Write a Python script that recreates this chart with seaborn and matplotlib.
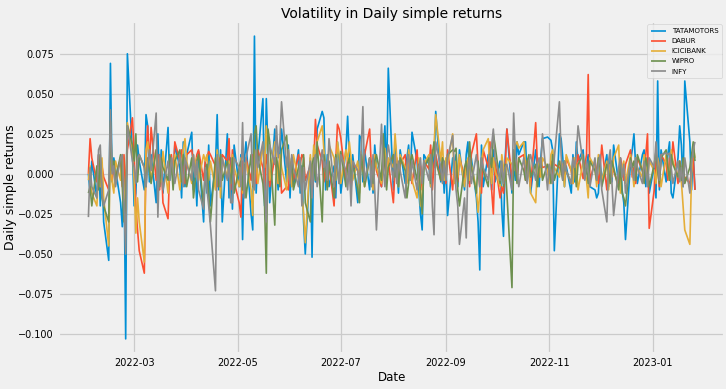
import pandas as pd
import matplotlib
matplotlib.use("Agg")
import matplotlib.pyplot as plt
import seaborn as sns

# daily simple returns (one value per trading day)
tatamotors = [
    0.000, -0.012, 0.008, -0.015, 0.012, -0.020, 0.005, -0.030, -0.054, 0.069,
    -0.005, 0.010, 0.003, -0.018, -0.033, 0.005, -0.103, 0.075, 0.012, -0.020,
    -0.012, 0.018, 0.008, -0.010, 0.037, 0.030, -0.005, 0.012, -0.018, 0.025,
    -0.008, 0.015, -0.012, 0.029, -0.004, 0.010, -0.006, 0.018, 0.004, -0.015,
    0.020, -0.008, 0.012, 0.026, -0.010, 0.005, -0.020, 0.014, -0.030, 0.008,
    -0.012, 0.018, -0.020, 0.005, 0.037, -0.010, 0.015, -0.030, 0.025, -0.015,
    0.010, -0.022, 0.018, -0.008, 0.012, -0.041, 0.008, 0.020, -0.025, -0.035,
    0.086, -0.012, 0.010, 0.047, -0.020, 0.047, 0.015, -0.018, 0.028, 0.005,
    -0.010, 0.012, 0.028, -0.005, 0.018, -0.015, 0.010, -0.008, 0.015, -0.012,
    0.005, -0.030, -0.050, 0.010, -0.052, 0.015, -0.005, 0.028, 0.039, 0.035,
    -0.010, 0.012, -0.008, 0.005, -0.015, 0.020, 0.008, -0.012, 0.015, 0.036,
    0.010, -0.008, 0.012, -0.018, 0.024, 0.022, -0.005, 0.015, -0.010, 0.008,
    -0.012, 0.018, 0.005, -0.008, 0.012, 0.030, -0.005, 0.066, -0.010, 0.020,
    0.005, -0.012, 0.015, -0.006, 0.010, 0.018, -0.004, 0.026, 0.008, -0.010,
    -0.025, -0.035, 0.012, 0.006, -0.008, 0.015, 0.004, 0.039, -0.005, 0.010,
    -0.012, 0.008, -0.026, 0.010, 0.005, 0.012, -0.008, 0.015, -0.010, 0.012,
    0.020, -0.005, 0.010, -0.015, -0.030, -0.060, 0.018, -0.008, 0.012, 0.005,
    -0.010, 0.015, -0.005, 0.008, -0.022, -0.039, 0.010, 0.028, -0.012, 0.006,
    -0.004, 0.020, 0.012, 0.020, 0.020, -0.005, 0.008, -0.012, 0.015, 0.004,
    -0.008, 0.010, 0.022, 0.023, 0.022, 0.021, 0.015, -0.048, 0.025, 0.022,
    0.010, -0.008, 0.005, -0.012, 0.012, -0.005, 0.020, 0.008, 0.015, -0.003,
    0.005, 0.012, -0.008, -0.010, -0.015, -0.012, 0.008, -0.005, 0.012, -0.008,
    0.010, -0.005, 0.018, -0.006, 0.010, -0.010, -0.018, -0.041, 0.008, 0.015,
    0.025, 0.005, -0.006, 0.012, 0.015, -0.008, 0.010, -0.012, 0.005, -0.015,
    0.058, -0.010, 0.015, -0.005, 0.012, 0.020, -0.012, -0.015, 0.010, 0.030,
    0.018, -0.008, 0.058, 0.020, -0.010, 0.012, -0.010,
]
dabur = [
    0.000, 0.022, 0.010, -0.005, 0.012, -0.008, 0.005, -0.002, -0.010, 0.008,
    -0.004, 0.006, -0.003, 0.010, -0.008, 0.012, -0.012, 0.015, 0.035, 0.012,
    -0.020, -0.035, -0.048, -0.062, 0.010, 0.030, 0.005, 0.029, -0.004, 0.012,
    -0.010, 0.008, -0.018, -0.028, 0.005, 0.012, -0.004, 0.020, 0.008, 0.015,
    0.002, -0.006, 0.012, 0.015, 0.008, 0.004, 0.012, 0.015, -0.004, 0.008,
    0.010, 0.014, 0.012, 0.005, -0.008, 0.010, -0.005, 0.012, 0.008, 0.022,
    -0.010, 0.015, -0.005, -0.018, -0.027, 0.008, -0.012, 0.010, -0.004, 0.012,
    0.008, -0.006, 0.015, 0.004, -0.010, 0.012, 0.005, -0.008, 0.010, 0.003,
    -0.006, 0.010, -0.012, -0.008, -0.010, 0.005, 0.008, -0.004, 0.012, 0.006,
    0.012, 0.010, -0.004, 0.005, -0.012, 0.006, 0.034, 0.018, 0.008, -0.005,
    0.004, -0.008, 0.006, -0.020, 0.008, 0.031, 0.028, 0.022, -0.005, 0.010,
    0.004, -0.010, 0.006, 0.002, -0.004, 0.008, 0.002, 0.012, 0.028, 0.004,
    -0.006, 0.010, 0.002, -0.008, 0.012, 0.005, -0.004, 0.008, -0.018, 0.004,
    0.010, -0.002, 0.006, 0.012, -0.005, 0.008, 0.002, -0.006, 0.015, -0.004,
    0.005, -0.010, 0.008, 0.003, 0.018, -0.010, 0.006, 0.012, -0.004, 0.008,
    0.004, -0.006, 0.015, -0.010, 0.008, 0.002, -0.005, 0.010, -0.002, 0.006,
    0.004, -0.008, 0.012, 0.025, 0.005, -0.008, -0.012, 0.015, 0.004, 0.020,
    -0.010, -0.025, 0.008, -0.015, -0.008, -0.012, 0.004, 0.028, -0.004, 0.010,
    0.006, -0.002, 0.010, 0.012, -0.004, 0.008, 0.004, -0.008, 0.032, 0.006,
    -0.002, 0.008, 0.004, 0.005, -0.004, 0.008, -0.002, 0.006, 0.004, 0.002,
    0.006, -0.004, 0.010, 0.002, -0.006, 0.008, 0.004, 0.012, -0.003, 0.005,
    0.012, 0.062, -0.004, 0.008, 0.002, -0.006, 0.004, 0.018, -0.010, 0.006,
    -0.003, 0.008, 0.002, -0.008, 0.010, 0.004, -0.004, 0.006, 0.015, -0.002,
    0.004, -0.006, 0.010, 0.002, -0.004, 0.012, 0.025, -0.034, -0.010, 0.008,
    0.004, -0.008, 0.012, 0.006, -0.004, 0.010, 0.004, 0.020, -0.006, 0.008,
    0.002, -0.004, -0.002, -0.006, 0.002, 0.010, -0.010,
]
icicibank = [
    -0.004, 0.005, -0.012, -0.020, 0.004, -0.008, 0.010, -0.015, -0.045, 0.020,
    -0.005, -0.012, 0.008, -0.004, 0.012, -0.010, -0.020, 0.032, 0.015, -0.005,
    -0.037, -0.015, -0.030, -0.055, 0.015, 0.020, 0.008, -0.004, 0.015, -0.006,
    0.010, -0.005, 0.014, -0.012, 0.004, 0.008, -0.002, 0.012, -0.010, 0.006,
    0.015, 0.022, 0.008, -0.006, 0.012, 0.004, 0.010, -0.004, 0.012, 0.008,
    0.012, -0.004, 0.008, -0.010, 0.015, 0.006, -0.015, 0.010, -0.002, 0.008,
    -0.006, 0.012, 0.004, -0.008, 0.010, -0.012, 0.005, 0.008, -0.010, -0.026,
    0.015, 0.010, -0.006, 0.018, 0.004, 0.030, 0.012, -0.004, 0.020, 0.010,
    -0.006, 0.012, 0.004, -0.010, 0.015, 0.006, -0.008, 0.012, -0.004, 0.008,
    -0.012, -0.025, -0.043, 0.012, -0.006, 0.018, 0.010, 0.020, 0.030, 0.015,
    0.004, -0.008, 0.018, 0.010, -0.004, 0.020, 0.012, -0.006, 0.015, 0.008,
    0.020, 0.010, -0.004, 0.008, -0.012, 0.014, 0.004, -0.008, 0.010, 0.002,
    -0.010, 0.012, 0.004, -0.006, 0.008, 0.016, -0.004, 0.010, 0.004, 0.025,
    0.010, -0.008, 0.012, 0.004, -0.006, 0.015, 0.008, -0.004, -0.015, 0.010,
    -0.020, -0.012, 0.006, 0.012, -0.008, 0.010, 0.018, 0.037, 0.008, 0.020,
    -0.004, 0.010, 0.006, 0.025, -0.006, 0.008, -0.002, 0.012, -0.008, 0.004,
    0.010, -0.004, 0.006, -0.010, -0.024, -0.012, 0.008, 0.015, 0.022, 0.004,
    -0.006, 0.010, 0.002, -0.008, 0.012, 0.004, -0.004, 0.010, 0.006, 0.002,
    0.018, 0.020, 0.016, 0.020, 0.006, -0.004, 0.008, -0.012, -0.018, 0.004,
    0.008, -0.002, 0.010, 0.004, -0.006, 0.012, 0.015, 0.004, -0.002, 0.008,
    0.004, -0.008, 0.012, 0.002, -0.006, 0.010, 0.004, -0.010, 0.008, 0.002,
    -0.004, -0.015, 0.010, 0.004, -0.008, 0.012, 0.002, -0.004, 0.008, -0.010,
    0.006, -0.002, 0.010, 0.018, -0.012, 0.004, 0.008, -0.006, 0.012, 0.002,
    -0.008, 0.010, 0.004, -0.002, 0.012, 0.006, -0.004, 0.008, 0.002, -0.006,
    0.010, 0.004, -0.008, 0.012, 0.002, -0.004, 0.015, 0.008, -0.002, 0.006,
    -0.005, -0.020, -0.035, -0.044, 0.000, 0.018, 0.010,
]
wipro = [
    -0.012, -0.008, -0.020, 0.005, -0.010, 0.012, -0.015, -0.020, -0.030, 0.033,
    0.002, 0.008, -0.004, 0.012, -0.008, -0.030, -0.020, 0.030, 0.018, 0.008,
    0.025, -0.005, 0.012, 0.004, -0.008, 0.010, 0.002, -0.006, 0.015, 0.004,
    -0.008, 0.010, 0.004, -0.004, 0.012, 0.006, -0.010, 0.008, 0.015, -0.005,
    0.012, 0.004, -0.008, 0.010, -0.015, -0.005, 0.008, 0.012, -0.020, 0.002,
    0.006, -0.012, -0.030, 0.010, 0.004, -0.008, 0.012, -0.004, 0.008, 0.002,
    -0.006, 0.010, -0.012, 0.004, 0.008, -0.010, 0.006, -0.015, 0.012, -0.008,
    0.025, 0.030, 0.010, -0.006, -0.020, -0.062, 0.028, 0.020, -0.032, 0.010,
    0.004, -0.008, 0.015, 0.024, 0.006, -0.004, 0.010, -0.010, 0.004, 0.008,
    -0.006, 0.012, -0.018, -0.030, 0.006, 0.010, -0.004, 0.020, -0.030, 0.012,
    0.004, -0.010, 0.008, -0.015, 0.012, 0.002, -0.006, 0.014, -0.008, 0.006,
    0.010, -0.004, 0.006, -0.010, -0.018, 0.012, 0.004, -0.008, 0.010, 0.002,
    -0.006, 0.008, 0.012, -0.004, 0.025, 0.006, -0.010, 0.004, 0.012, -0.002,
    0.006, -0.008, 0.010, 0.002, -0.015, -0.006, 0.008, 0.012, -0.004, 0.006,
    -0.012, -0.025, 0.004, 0.010, -0.006, 0.012, 0.020, 0.008, -0.004, 0.010,
    0.006, -0.004, 0.012, 0.015, 0.014, 0.016, -0.010, -0.020, 0.004, 0.008,
    -0.006, 0.020, 0.004, -0.012, 0.008, -0.004, 0.010, 0.002, -0.008, 0.012,
    0.004, 0.025, 0.018, -0.006, 0.004, -0.008, 0.006, -0.012, -0.071, 0.015,
    0.004, -0.006, 0.010, 0.002, -0.004, 0.008, 0.012, -0.002, 0.006, -0.008,
    0.004, 0.010, -0.004, 0.006, 0.002, -0.006, 0.012, -0.004, 0.008, 0.002,
    -0.004, 0.008, 0.002, -0.006, 0.010, 0.004, -0.008, 0.006, 0.012, -0.002,
    0.004, -0.006, 0.008, 0.002, -0.004, 0.010, 0.004, -0.008, 0.006, 0.002,
    -0.006, 0.008, 0.004, -0.010, 0.006, -0.012, -0.015, -0.020, 0.010, 0.004,
    0.008, -0.004, 0.012, 0.002, -0.006, 0.010, 0.004, -0.008, 0.006, 0.014,
    0.002, -0.006, 0.010, 0.015, 0.004, -0.004, 0.012, 0.006, -0.002, 0.008,
    -0.004, 0.010, -0.006, 0.004, 0.012, 0.020, 0.008,
]
infy = [
    -0.027, 0.004, -0.008, -0.015, 0.015, 0.018, -0.012, -0.020, -0.010, 0.040,
    0.000, 0.005, -0.008, 0.010, 0.012, -0.020, -0.050, 0.030, 0.008, 0.004,
    -0.006, 0.010, 0.012, 0.004, -0.008, 0.006, 0.015, 0.002, 0.038, -0.027,
    0.012, 0.004, -0.010, 0.008, -0.004, 0.010, 0.002, -0.006, 0.012, 0.004,
    -0.008, 0.010, 0.006, -0.004, 0.012, -0.002, 0.008, -0.010, -0.022, 0.004,
    -0.010, -0.020, -0.032, -0.073, 0.012, 0.004, -0.008, 0.010, -0.004, 0.006,
    -0.018, -0.018, 0.010, 0.004, -0.008, 0.032, -0.015, 0.010, 0.025, -0.006,
    -0.010, 0.015, 0.004, 0.020, -0.008, -0.030, 0.012, 0.018, 0.006, 0.030,
    0.010, 0.020, 0.045, 0.004, 0.015, -0.006, 0.012, 0.004, -0.008, 0.010,
    -0.020, 0.004, -0.010, 0.008, -0.015, 0.006, 0.012, -0.008, 0.015, 0.004,
    0.008, -0.004, 0.022, -0.008, 0.010, 0.004, -0.006, 0.012, 0.002, -0.010,
    0.006, -0.020, 0.008, 0.002, -0.006, 0.015, 0.042, -0.004, 0.010, -0.008,
    0.012, -0.010, -0.035, 0.031, 0.004, -0.008, 0.010, 0.018, -0.004, 0.012,
    -0.006, 0.008, 0.002, -0.015, 0.006, 0.012, -0.004, 0.008, -0.010, 0.004,
    0.010, -0.006, 0.008, -0.004, 0.012, -0.020, -0.038, 0.020, 0.004, -0.006,
    0.008, -0.004, 0.010, 0.024, 0.004, -0.010, -0.020, -0.044, -0.015, -0.040,
    0.004, 0.010, -0.006, 0.012, 0.002, -0.008, 0.010, 0.004, -0.004, 0.012,
    0.018, 0.028, 0.010, -0.004, 0.008, -0.006, 0.004, 0.006, -0.010, 0.038,
    0.012, 0.004, -0.008, 0.010, 0.002, -0.006, 0.008, 0.012, -0.004, 0.006,
    0.010, 0.004, 0.025, -0.010, 0.006, 0.002, -0.006, 0.010, 0.045, 0.012,
    -0.004, 0.008, 0.002, -0.006, 0.010, 0.004, 0.012, 0.030, 0.006, -0.004,
    0.008, 0.002, -0.008, 0.010, -0.004, 0.006, 0.012, -0.010, -0.030, 0.008,
    0.015, -0.006, -0.026, 0.004, 0.010, -0.002, 0.006, -0.012, 0.008, 0.002,
    -0.004, 0.010, 0.004, -0.006, 0.008, 0.002, -0.008, 0.010, 0.004, 0.020,
    0.006, -0.004, 0.012, 0.013, 0.012, 0.013, 0.004, -0.006, 0.008, -0.005,
    0.004, -0.008, 0.010, -0.012, 0.006, 0.015, 0.020,
]

stocks = ["TATAMOTORS", "DABUR", "ICICIBANK", "WIPRO", "INFY"]
series = [tatamotors, dabur, icicibank, wipro, infy]
colors = ["#008fd5", "#fc4f30", "#e5ae38", "#6d904f", "#8b8b8b"]

dates = pd.bdate_range("2022-02-02", periods=len(tatamotors))

plt.style.use("fivethirtyeight")
fig, ax = plt.subplots(figsize=(7.26, 3.89), dpi=100)
fig.subplots_adjust(left=0.08, right=0.999, top=0.946, bottom=0.09)

for name, vals, c in zip(stocks, series, colors):
    sns.lineplot(x=dates[:len(vals)], y=vals, label=name, color=c, linewidth=1.2, ax=ax)

ax.set_title("Volatility in Daily simple returns", fontsize=10, pad=2)
ax.set_xlabel("Date", fontsize=8.5, labelpad=2)
ax.set_ylabel("Daily simple returns", fontsize=9, labelpad=1)
ax.tick_params(axis="both", labelsize=7, pad=3)
ax.grid(True, color="#cbcbcb", linewidth=0.9)
ax.legend(loc="upper right", fontsize=5, handlelength=2.2, borderpad=0.5, labelspacing=0.6)

fig.savefig("out.png", dpi=100, facecolor="#f0f0f0")
